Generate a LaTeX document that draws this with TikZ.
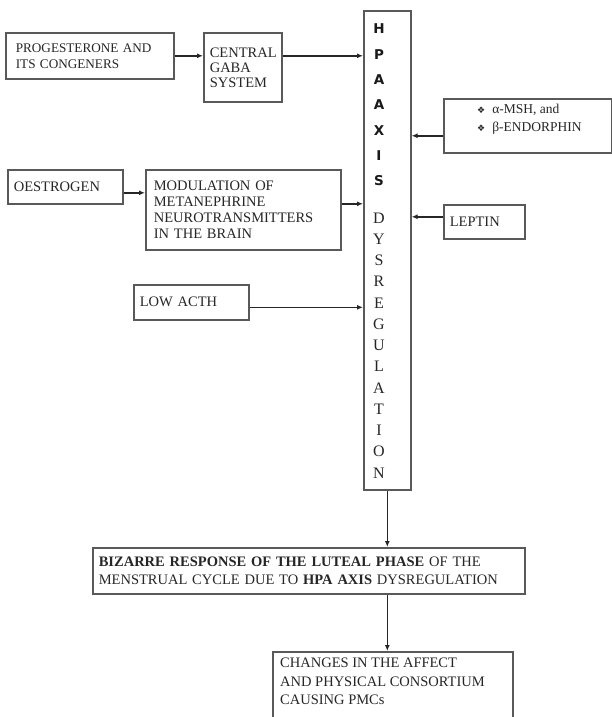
\documentclass[tikz,border=0pt]{standalone}
\usepackage{fontspec}
\setmainfont{Liberation Serif}
\newfontfamily\dejavu{DejaVu Sans}
\usetikzlibrary{arrows.meta,calc}
\begin{document}
\begin{tikzpicture}[x=1pt,y=1pt,
  box/.style={draw=black!65, line width=1.6pt, inner ysep=0pt, anchor=north west, align=left,
              text=black!85, font=\fontsize{14.5}{16}\selectfont},
  txt/.style={inner sep=0pt, anchor=north west, align=left, text=black!85},
  arr/.style={-{Latex[length=6pt,width=5pt]}, line width=1.5pt, draw=black!85},
  hpasans/.style={inner sep=0pt, text=black!90, font=\dejavu\bfseries\fontsize{13.5}{14}\selectfont},
  hpaserif/.style={inner sep=0pt, text=black!85, font=\fontsize{16}{16}\selectfont}]
\useasboundingbox (0,0) rectangle (612,-717);
\fill[white] (0,0) rectangle (612,-717);

% left boxes
\node[box, minimum width=168, minimum height=46, text width=156, inner xsep=6,
      font=\fontsize{13.2}{16}\selectfont] (prog) at (5,-32)
  {\hspace*{4pt}PROGESTERONE AND\\\hspace*{4pt}ITS CONGENERS};
\node[box, minimum width=78, minimum height=69, text width=66, inner xsep=6,
      font=\fontsize{14.5}{15}\selectfont] (gaba) at (203,-32)
  {CENTRAL\\GABA\\SYSTEM};
\node[box, minimum width=115, minimum height=34, text width=103, inner xsep=6] (oest) at (7,-169)
  {OESTROGEN};
\node[box, minimum width=195, minimum height=80, text width=179, inner xsep=8] (mod) at (145,-169)
  {MODULATION OF\\METANEPHRINE\\NEUROTRANSMITTERS\\IN THE BRAIN};
\node[box, minimum width=115, minimum height=35, text width=103, inner xsep=6] (acth) at (133,-284)
  {LOW ACTH};

% central HPA box
\node[box, minimum width=47, minimum height=479, inner xsep=0pt] (hpa) at (363,-10) {};
\foreach \l [count=\i] in {H,P,A,A,X,I,S}
  \node[hpasans] (hs\i) at (379,{-29-25.3*(\i-1)}) {\l};
\foreach \l [count=\i] in {D,Y,S,R,E,G,U,L,A,T,I,O,N}
  \node[hpaserif] (hr\i) at (379,{-218-21.25*(\i-1)}) {\l};

% right boxes
\node[box, minimum width=168, minimum height=54, inner xsep=0pt] (msh) at (443,-98) {};
\node[txt, font=\fontsize{13.5}{18}\selectfont] (mshtext) at (477,-104)
  {{\dejavu\fontsize{9}{10}\selectfont ❖}\hspace{7pt}α-MSH, and\\
   {\dejavu\fontsize{9}{10}\selectfont ❖}\hspace{7pt}β-ENDORPHIN};
\node[box, minimum width=81, minimum height=34, text width=69, inner xsep=6] (lep) at (443,-204)
  {LEPTIN};

% bottom boxes
\node[box, minimum width=432, minimum height=46, text width=420, inner xsep=6,
      font=\fontsize{14.5}{18}\selectfont] (biz) at (92,-547)
  {\textbf{BIZARRE RESPONSE OF THE LUTEAL PHASE} OF THE\\
   MENSTRUAL CYCLE DUE TO \textbf{HPA AXIS} DYSREGULATION};
\node[box, minimum width=240, minimum height=90, inner xsep=0pt] (chg) at (272,-651) {};
\node[txt, font=\fontsize{14.5}{18.5}\selectfont] (chgtext) at (280,-658)
  {CHANGES IN THE AFFECT\\AND PHYSICAL CONSORTIUM\\CAUSING PMCs};

% connectors
\draw[arr] (prog.east) -- (gaba.west |- prog.east);
\draw[arr] (gaba.east |- prog.east) -- (hpa.west |- prog.east);
\draw[arr] ([yshift=-6]oest.east) coordinate (o1) -- (o1 -| mod.west);
\draw[arr] ([yshift=6]mod.east) coordinate (m1) -- (m1 -| hpa.west);
\draw[arr] ([yshift=-5]acth.east) coordinate (a1) -- (a1 -| hpa.west);
\draw[arr] ([yshift=-10]msh.west) coordinate (s1) -- (s1 -| hpa.east);
\draw[arr] ([yshift=5]lep.west) coordinate (l1) -- (l1 -| hpa.east);
\draw[arr] (hpa.south) -- (hpa.south |- biz.north);
\draw[arr] (hpa.south |- biz.south) -- (hpa.south |- chg.north);
\end{tikzpicture}
\end{document}
